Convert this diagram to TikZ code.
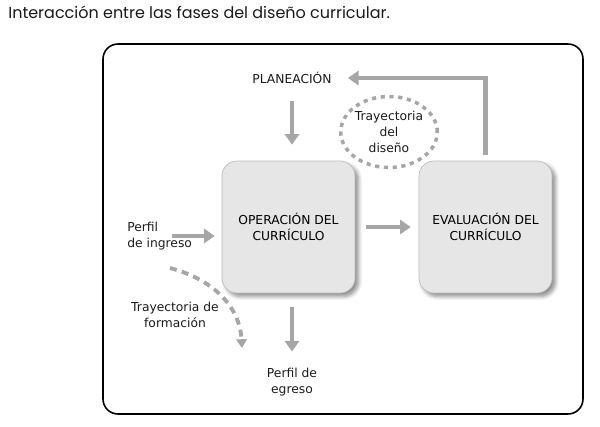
\documentclass[tikz,border=0pt]{standalone}
\usepackage{fontspec}
\setmainfont{DejaVu Sans}
\newfontfamily\titlefont{Poppins}
\usetikzlibrary{arrows.meta, shapes.geometric, shadows.blur}
\definecolor{flechagris}{HTML}{A6A6A6}
\definecolor{cajagris}{HTML}{E6E6E6}
\definecolor{bordegris}{HTML}{BDBDBD}
\definecolor{textogris}{HTML}{1A1A1A}

\tikzset{
  flecha/.style={line width=2.8pt, flechagris, -{Triangle[length=6pt, width=8pt]}},
  fase/.style={draw=bordegris, fill=cajagris, rounded corners=0.3cm,
    minimum width=2.66cm, minimum height=2.64cm, align=center,
    blur shadow={shadow xshift=2pt, shadow yshift=-2pt, shadow blur steps=6, shadow opacity=45}},
  etiqueta/.style={inner sep=0pt, align=center, text=textogris},
}

\begin{document}
\begin{tikzpicture}[x=0.02cm, y=-0.02cm, font=\fontsize{7}{9.3}\selectfont]
        \useasboundingbox (0,0) rectangle (600,427);

        % Title
        \node[anchor=west, inner sep=0pt, text=textogris, font=\titlefont\fontsize{9.1}{11}\selectfont] (titulo) at (8,12) {Interacción entre las fases del diseño curricular.};

        % Outer frame
        \draw[line width=0.9pt, rounded corners=0.3cm] (103,44) rectangle (583,414);

        % Phases
        \node[fase] (oper) at (288.5,227) {OPERACIÓN DEL\\CURRÍCULO};
        \node[fase] (eval) at (485.5,227) {EVALUACIÓN DEL\\CURRÍCULO};

        % Labels
        \node[etiqueta] (plan) at (292,78) {PLANEACIÓN};
        \node[etiqueta, anchor=west, align=left] (ingreso) at (127,236) {Perfil\\de ingreso};
        \node[etiqueta] (egreso) at (292,382) {Perfil de\\egreso};
        \node[etiqueta] (formacion) at (175,315) {Trayectoria de\\formación};

        % Dashed circle
        \node[etiqueta, ellipse, draw=flechagris, line width=2pt, dash pattern=on 2.4pt off 2.6pt,
              minimum width=1.9cm, minimum height=1.42cm] (diseno) at (389,132)
              {Trayectoria\\del\\diseño};

        % Free ends
        \coordinate (ing) at (172,236);
        \coordinate (tf1) at (170,268);
        \coordinate (tf2) at (242,348);

        % Draw arrows
        \draw[flecha, shorten <=0.34cm, shorten >=0.32cm] (plan.south) -- (plan.south |- oper.north);
        \draw[flecha, shorten <=0.22cm, shorten >=0.16cm] (oper.east) -- (eval.west);
        \draw[flecha, shorten <=0.12cm, shorten >=0.32cm] (eval.north) |- (plan.east);
        \draw[flecha, shorten >=0.14cm] (ing) -- (ing -| oper.west);
        \draw[flecha, shorten <=0.28cm, shorten >=0.32cm] (egreso.north |- oper.south) -- (egreso.north);

        % Dashed curve
        \draw[line width=2.2pt, flechagris, dash pattern=on 4pt off 3pt, -{Triangle[length=5pt, width=6pt]}]
              (tf1) .. controls (215,280) and (240,308) .. (tf2);
\end{tikzpicture}
\end{document}
